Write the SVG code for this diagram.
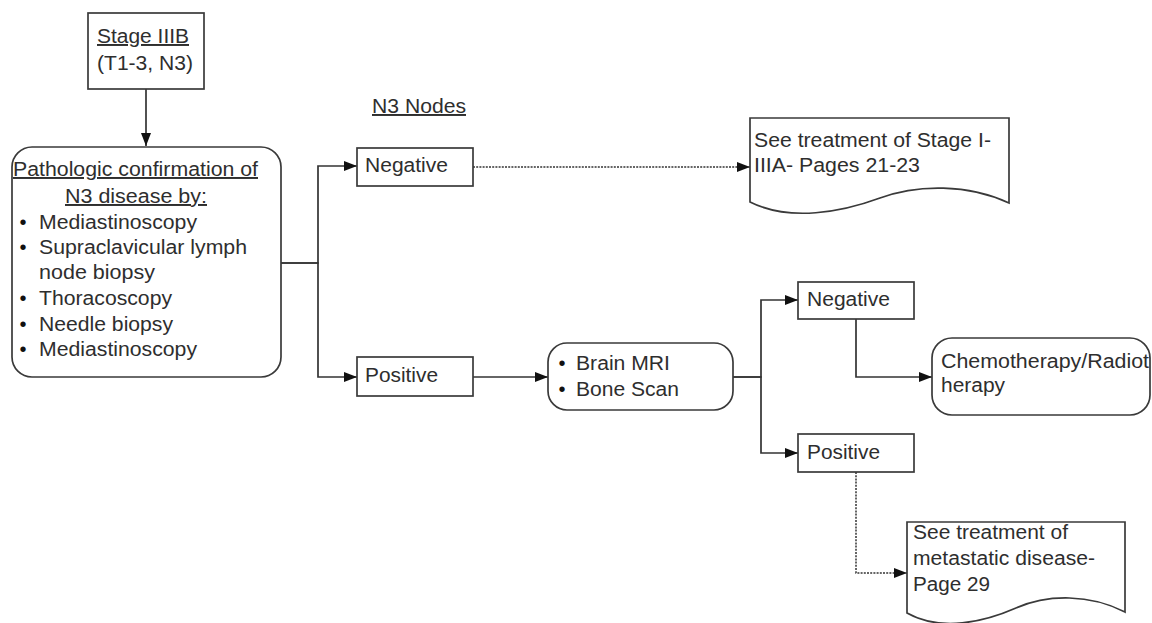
<svg xmlns="http://www.w3.org/2000/svg" width="1152" height="623" viewBox="0 0 1152 623">
<style>
.box{fill:#fff;stroke:#3a3a3a;stroke-width:1.7}
.t{font-family:"Liberation Sans",Arial,sans-serif;font-size:19.5px;fill:#2e2e2e}
.u{text-decoration:underline}
.b{font-family:"Liberation Sans",Arial,sans-serif;font-size:20px;fill:#111;text-anchor:middle}
.c{fill:none;stroke:#333;stroke-width:1.7}
.d{fill:none;stroke:#333;stroke-width:1.5;stroke-dasharray:2 1.2}
</style>
<defs>
<marker id="ah" markerUnits="userSpaceOnUse" markerWidth="14" markerHeight="11" refX="13" refY="5.5" orient="auto">
<path d="M0,0.5 L13,5.5 L0,10.5 z" fill="#111"/>
</marker>
</defs>
<rect width="1152" height="623" fill="#fff"/>
<g id="connectors">
<path class="c" d="M146,89 V146" marker-end="url(#ah)"/>
<path class="c" d="M281,263 H318 V166 H357" marker-end="url(#ah)"/>
<path class="c" d="M281,263 H318 V377 H357" marker-end="url(#ah)"/>
<path class="d" d="M473,167 H750" marker-end="url(#ah)"/>
<path class="c" d="M473,377 H548" marker-end="url(#ah)"/>
<path class="c" d="M733,377 H761 V300 H798" marker-end="url(#ah)"/>
<path class="c" d="M733,377 H761 V453 H798" marker-end="url(#ah)"/>
<path class="c" d="M856,319 V377 H932" marker-end="url(#ah)"/>
<path class="d" d="M856,472 V573 H907" marker-end="url(#ah)"/>
</g>
<g id="stage">
<rect class="box" x="88" y="13" width="116" height="76"/>
<text class="t u" x="143" y="43" text-anchor="middle" textLength="92" lengthAdjust="spacingAndGlyphs">Stage IIIB</text>
<text class="t" x="145" y="70" text-anchor="middle" textLength="96" lengthAdjust="spacingAndGlyphs">(T1-3, N3)</text>
</g>
<g id="patho">
<rect class="box" x="12" y="147" width="269" height="230" rx="20"/>
<text class="t u" x="135.5" y="176" text-anchor="middle" textLength="245" lengthAdjust="spacingAndGlyphs">Pathologic confirmation of</text>
<text class="t u" x="136" y="203" text-anchor="middle" textLength="142" lengthAdjust="spacingAndGlyphs">N3 disease by:</text>
<text class="b" x="23" y="229">•</text>
<text class="t" x="39" y="229" textLength="158" lengthAdjust="spacingAndGlyphs">Mediastinoscopy</text>
<text class="b" x="23" y="254">•</text>
<text class="t" x="39" y="254" textLength="208" lengthAdjust="spacingAndGlyphs">Supraclavicular lymph</text>
<text class="t" x="39" y="279" textLength="116" lengthAdjust="spacingAndGlyphs">node biopsy</text>
<text class="b" x="23" y="305">•</text>
<text class="t" x="39" y="305" textLength="133" lengthAdjust="spacingAndGlyphs">Thoracoscopy</text>
<text class="b" x="23" y="331">•</text>
<text class="t" x="39" y="331" textLength="134" lengthAdjust="spacingAndGlyphs">Needle biopsy</text>
<text class="b" x="23" y="356">•</text>
<text class="t" x="39" y="356" textLength="158" lengthAdjust="spacingAndGlyphs">Mediastinoscopy</text>
</g>
<g id="n3label">
<text class="t u" x="372" y="113" textLength="94" lengthAdjust="spacingAndGlyphs">N3 Nodes</text>
</g>
<g id="neg1">
<rect class="box" x="357" y="148" width="116" height="38"/>
<text class="t" x="365" y="172" textLength="83" lengthAdjust="spacingAndGlyphs">Negative</text>
</g>
<g id="doc1">
<path class="box" d="M750,118 H1009 V203 C968,184 918,184 880,198 C842,212 790,222 750,202 Z"/>
<text class="t" x="754" y="147" textLength="237" lengthAdjust="spacingAndGlyphs">See treatment of Stage I-</text>
<text class="t" x="754" y="172" textLength="166" lengthAdjust="spacingAndGlyphs">IIIA- Pages 21-23</text>
</g>
<g id="pos1">
<rect class="box" x="357" y="357" width="116" height="39"/>
<text class="t" x="365" y="382" textLength="73" lengthAdjust="spacingAndGlyphs">Positive</text>
</g>
<g id="scan">
<rect class="box" x="548" y="343" width="185" height="67" rx="19"/>
<text class="b" x="562" y="370">•</text>
<text class="t" x="576" y="370" textLength="94" lengthAdjust="spacingAndGlyphs">Brain MRI</text>
<text class="b" x="562" y="396">•</text>
<text class="t" x="576" y="396" textLength="103" lengthAdjust="spacingAndGlyphs">Bone Scan</text>
</g>
<g id="neg2">
<rect class="box" x="798" y="282" width="116" height="37"/>
<text class="t" x="807" y="306" textLength="83" lengthAdjust="spacingAndGlyphs">Negative</text>
</g>
<g id="pos2">
<rect class="box" x="798" y="434" width="116" height="38"/>
<text class="t" x="807" y="459" textLength="73" lengthAdjust="spacingAndGlyphs">Positive</text>
</g>
<g id="chemo">
<rect class="box" x="932" y="338" width="218" height="77" rx="20"/>
<text class="t" x="941" y="368" textLength="208" lengthAdjust="spacingAndGlyphs">Chemotherapy/Radiot</text>
<text class="t" x="941" y="392" textLength="64" lengthAdjust="spacingAndGlyphs">herapy</text>
</g>
<g id="doc2">
<path class="box" d="M907,522 H1125 V612 C1090,594 1048,594 1016,608 C984,622 941,632 907,613 Z"/>
<text class="t" x="913" y="539" textLength="155" lengthAdjust="spacingAndGlyphs">See treatment of</text>
<text class="t" x="913" y="565" textLength="182" lengthAdjust="spacingAndGlyphs">metastatic disease-</text>
<text class="t" x="913" y="591" textLength="77" lengthAdjust="spacingAndGlyphs">Page 29</text>
</g>
</svg>
